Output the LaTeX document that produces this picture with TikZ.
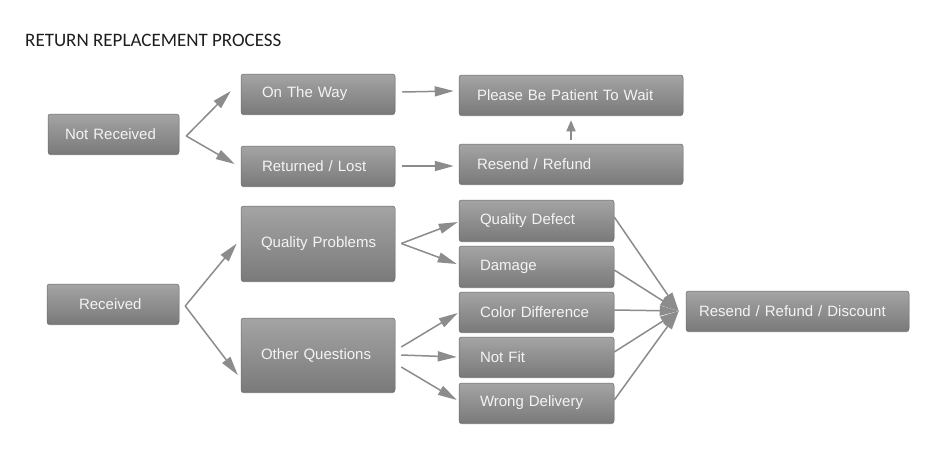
\documentclass[tikz,border=0pt]{standalone}
\usepackage{fontspec}
\setmainfont{Liberation Sans}
\newfontfamily\titlefont{Carlito}
\usetikzlibrary{arrows.meta,shadows}
\definecolor{boxtop}{HTML}{A4A4A4}
\definecolor{boxbot}{HTML}{7A7A7A}
\definecolor{boxedge}{HTML}{6E6E6E}
\definecolor{arrcol}{HTML}{8C8C8C}
\definecolor{txtcol}{HTML}{F4F4F4}
\definecolor{titlecol}{HTML}{1E1E1E}
\hyphenpenalty=10000
\tikzset{
  box/.style={rectangle, rounded corners=2.5pt, top color=boxtop, bottom color=boxbot,
    draw=boxedge, line width=0.5pt,
    drop shadow={shadow xshift=0pt, shadow yshift=-1.2pt, opacity=0.55, fill=black!70},
    text=txtcol, font=\fontsize{15}{18}\selectfont, minimum height=40pt, align=left,
    inner ysep=0pt},
  arr/.style={draw=arrcol, line width=1.5pt, -{Triangle[length=19pt,width=10pt]}, arrcol},
  smallarr/.style={draw=arrcol, line width=1.5pt, -{Triangle[length=11pt,width=9pt]}, arrcol},
}
\begin{document}
\begin{tikzpicture}[x=1pt,y=-1pt]
\useasboundingbox[fill=white] (0,0) rectangle (950,472);
\node[anchor=base west, text=titlecol, font=\titlefont\fontsize{19}{22}\selectfont, inner sep=0pt] (title) at (25,46) {RETURN REPLACEMENT PROCESS};

% column 1
\node[box, minimum width=131pt, text width=97pt, inner xsep=17pt] (nr) at (113.5,134) {Not Received};
\node[box, minimum width=132pt, text width=68pt, inner xsep=32pt] (rec) at (113,304) {Received};

% column 2
\node[box, minimum width=154pt, text width=112pt, inner xsep=21pt] (otw) at (318,94) {On The Way};
\node[box, minimum width=154pt, text width=112pt, inner xsep=21pt] (rl) at (318,166) {Returned / Lost};
\node[box, minimum width=154pt, minimum height=75pt, text width=120pt, inner xsep=17pt] (qp) at (318,243.5) {\hspace*{3pt}Quality Problems};
\node[box, minimum width=154pt, minimum height=74pt, text width=120pt, inner xsep=17pt] (oq) at (318,355) {\hspace*{3pt}Other Questions};

% column 3
\node[box, minimum width=224pt, text width=188pt, inner xsep=18pt] (pbp) at (571,95) {Please Be Patient To Wait};
\node[box, minimum width=224pt, text width=188pt, inner xsep=18pt] (rr) at (571,164) {Resend / Refund};
\node[box, minimum width=155pt, minimum height=41pt, text width=113pt, inner xsep=21pt] (qd) at (536.5,220.5) {Quality Defect};
\node[box, minimum width=155pt, minimum height=41pt, text width=113pt, inner xsep=21pt] (dm) at (536.5,266.5) {Damage};
\node[box, minimum width=155pt, text width=113pt, inner xsep=21pt] (cd) at (536.5,312) {Color Difference};
\node[box, minimum width=155pt, text width=113pt, inner xsep=21pt] (nf) at (536.5,357) {Not Fit};
\node[box, minimum width=155pt, text width=113pt, inner xsep=21pt] (wd) at (536.5,403) {Wrong Delivery};

% column 4
\node[box, minimum width=223pt, text width=197pt, inner xsep=13pt] (rrd) at (797.5,311) {Resend / Refund / Discount};

% connectors
\coordinate (nrO) at ([xshift=7pt,yshift=-2pt]nr.east);
\draw[arr] (nrO) -- ([xshift=-10pt,yshift=3pt]otw.west);
\draw[arr] (nrO) -- ([xshift=-6pt,yshift=2pt]rl.west);

\draw[arr] ([xshift=7pt,yshift=2pt]otw.east) -- ([xshift=-5pt,yshift=3pt]otw.east -| pbp.west);
\draw[arr] ([xshift=7pt]rl.east) -- ([xshift=-5pt]rl.east -| rr.west);
\draw[smallarr] ([yshift=4pt]rr.north) -- ([yshift=-5pt]pbp.south);

\coordinate (recO) at ([xshift=6pt,yshift=-2pt]rec.east);
\draw[arr] (recO) -- ([xshift=-4pt]qp.west);
\draw[arr] (recO) -- ([xshift=-3pt,yshift=-20pt]oq.west);

\coordinate (qpO) at ([xshift=6pt]qp.east);
\draw[arr] (qpO) -- ([xshift=-1pt,yshift=-1.5pt]qd.west);
\draw[arr] (qpO) -- ([xshift=-2pt,yshift=2.5pt]dm.west);

\draw[arr] ([xshift=6pt,yshift=8pt]oq.east) -- ([xshift=-1pt,yshift=-1pt]cd.west);
\draw[arr] ([xshift=6pt]oq.east) -- ([xshift=-2pt]nf.west);
\draw[arr] ([xshift=6pt,yshift=-12pt]oq.east) -- ([xshift=-2pt,yshift=3pt]wd.west);

\coordinate (rrdI) at ([xshift=-7pt]rrd.west);
\draw[arr] ([yshift=3.5pt]qd.east) -- (rrdI);
\draw[arr] ([yshift=-3.5pt]dm.east) -- (rrdI);
\draw[arr] ([yshift=2pt]cd.east) -- (rrdI);
\draw[arr] ([yshift=5pt]nf.east) -- (rrdI);
\draw[arr] ([yshift=3pt]wd.east) -- (rrdI);
\end{tikzpicture}
\end{document}
